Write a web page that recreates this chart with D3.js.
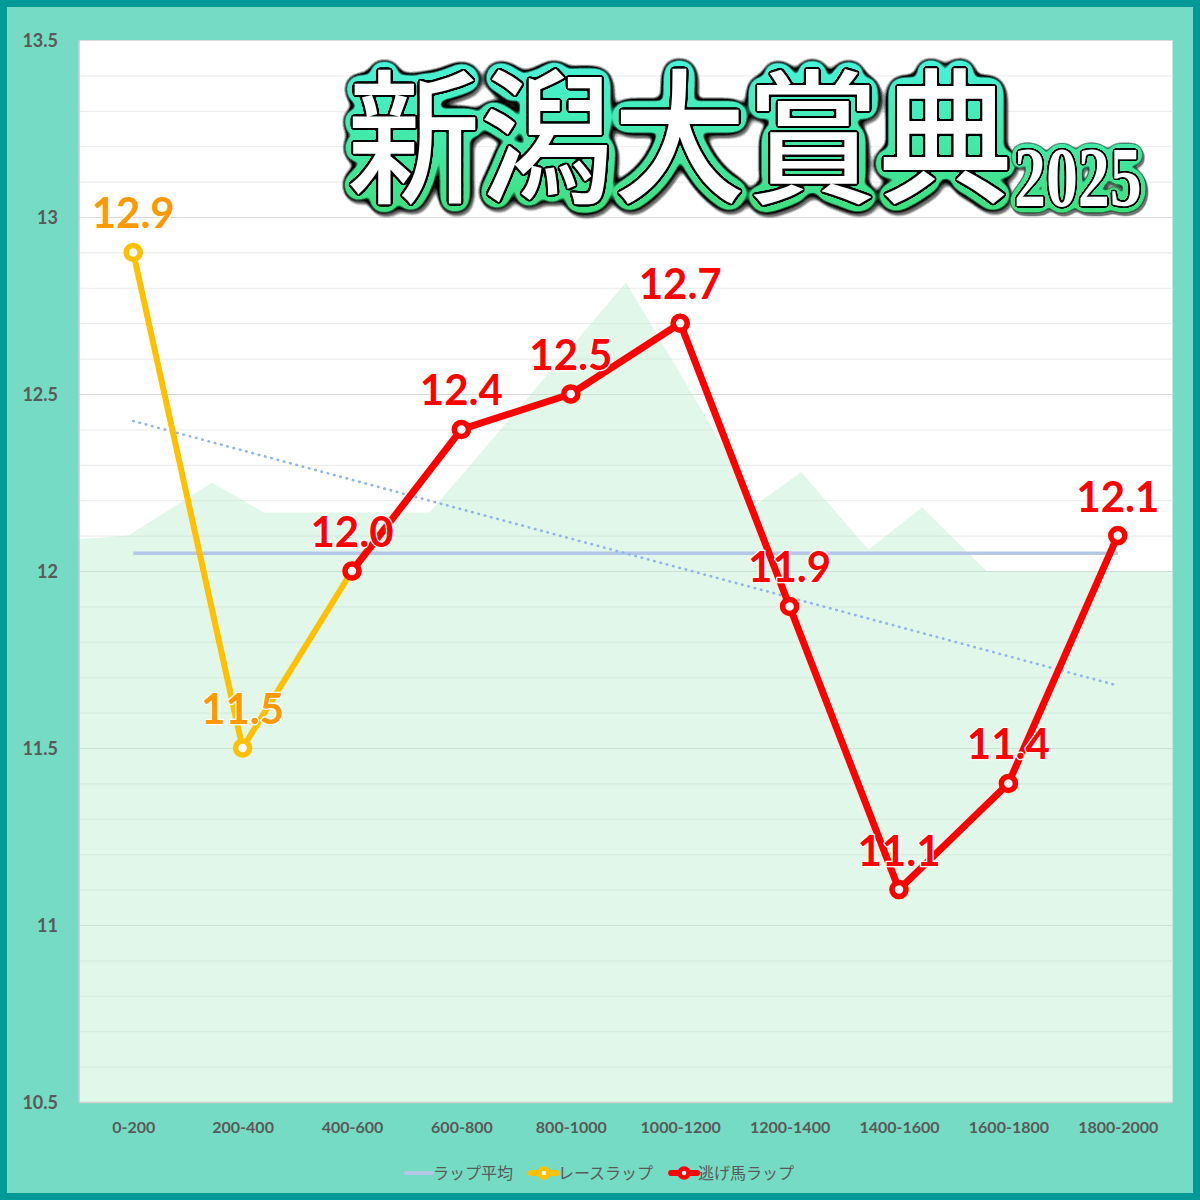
<!DOCTYPE html>
<html><head><meta charset="utf-8">
<script src="https://cdn.jsdelivr.net/npm/d3@7"></script>
<style>
html,body{margin:0;padding:0;background:#fff;}
svg{display:block;}
</style>
</head><body>
<svg id="chart" width="1200" height="1200"></svg>
<script>
// ---- data ----
const categories = ["0-200","200-400","400-600","600-800","800-1000","1000-1200","1200-1400","1400-1600","1600-1800","1800-2000"];
const raceLap   = [12.9, 11.5, 12.0, 12.4, 12.5, 12.7, 11.9, 11.1, 11.4, 12.1];
const leaderLap = [null, null, 12.0, 12.4, 12.5, 12.7, 11.9, 11.1, 11.4, 12.1];
const terrainDist = [0, 91, 244, 339, 642, 1001, 1241, 1321, 1444, 1542, 1660, 2000];
const terrainVal  = [12.09, 12.10, 12.25, 12.165, 12.165, 12.815, 12.19, 12.28, 12.06, 12.18, 12.0, 12.0];
const yTicks = [10.5, 11, 11.5, 12, 12.5, 13, 13.5];
const legendNames = ["ラップ平均", "レースラップ", "逃げ馬ラップ"];
const titleMain = "新潟大賞典";
const titleYear = "2025";

// ---- layout ----
const svg = d3.select("#chart");
const L = 78.5, R = 1172.5, T = 40, B = 1102;
const x = d3.scalePoint().domain(categories).range([L, R]).padding(0.5);
const xd = d3.scaleLinear().domain([0, 2000]).range([L, R]);
const y = d3.scaleLinear().domain([10.5, 13.5]).range([B, T]);

// background
svg.append("rect").attr("width",1200).attr("height",1200).attr("fill","#009a96");
svg.append("rect").attr("x",7).attr("y",7).attr("width",1186).attr("height",1186).attr("fill","#76dbc4");
svg.append("rect").attr("x",L).attr("y",T).attr("width",R-L).attr("height",B-T).attr("fill","#ffffff");

// gridlines
const minor = d3.range(105, 136).map(v => v/10).filter(v => Math.round(v*10) % 5 !== 0);
svg.append("g").selectAll("line").data(minor).join("line")
  .attr("x1",L).attr("x2",R).attr("y1",d=>y(d)+0.5).attr("y2",d=>y(d)+0.5)
  .attr("stroke","#eeeeee").attr("stroke-width",1.2);
svg.append("g").selectAll("line").data(yTicks.slice(1)).join("line")
  .attr("x1",L).attr("x2",R).attr("y1",d=>Math.round(y(d))+0.5).attr("y2",d=>Math.round(y(d))+0.5)
  .attr("stroke","#d9d9d9").attr("stroke-width",1.2);

// terrain area
const terrain = terrainDist.map((d,i)=>({d, v: terrainVal[i]}));
svg.append("path").datum(terrain)
  .attr("d", d3.area().x(p=>xd(p.d)).y0(B).y1(p=>y(p.v)))
  .attr("fill","#b3ecca").attr("fill-opacity",0.4);

// axes lines
svg.append("line").attr("x1",L).attr("x2",R).attr("y1",B+0.5).attr("y2",B+0.5).attr("stroke","#d0d0d0").attr("stroke-width",1.5);
svg.append("line").attr("x1",L+0.5).attr("x2",L+0.5).attr("y1",T).attr("y2",B).attr("stroke","#9dc3e6").attr("stroke-width",1.2);

// y axis labels
const yAxis = d3.axisLeft(y).tickValues(yTicks).tickSize(0).tickPadding(0).tickFormat(d3.format("~g"));
const gy = svg.append("g").attr("transform",`translate(58,0)`).call(yAxis);
gy.select(".domain").remove();
gy.selectAll("text").attr("font-family","Lato, 'Open Sans', sans-serif").attr("font-weight","bold")
  .attr("font-size",18).attr("fill","#595959").attr("dy","0.35em");

// x axis labels
const xAxis = d3.axisBottom(x).tickSize(0).tickPadding(0);
const gx = svg.append("g").attr("transform",`translate(0,1127)`).call(xAxis);
gx.select(".domain").remove();
gx.selectAll("text").attr("font-family","Lato, 'Open Sans', sans-serif").attr("font-weight","bold")
  .attr("font-size",16).attr("fill","#595959").attr("dy","0.35em");

// average line
const avg = d3.mean(raceLap);
svg.append("line").attr("x1",x(categories[0])).attr("x2",x(categories[categories.length-1]))
  .attr("y1",y(avg)).attr("y2",y(avg)).attr("stroke","#b4c7e7").attr("stroke-width",3.5);

// trendline (linear regression of race lap)
const idx = raceLap.map((v,i)=>i+1);
const mx = d3.mean(idx), my = avg;
const slope = d3.sum(idx.map((xi,i)=>(xi-mx)*(raceLap[i]-my))) / d3.sum(idx.map(xi=>(xi-mx)*(xi-mx)));
const trendAt = xi => my + slope*(xi-mx);
svg.append("line").attr("x1",x(categories[0])).attr("x2",x(categories[categories.length-1]))
  .attr("y1",y(trendAt(1))).attr("y2",y(trendAt(categories.length)))
  .attr("stroke","#8fb6e6").attr("stroke-width",2.6).attr("stroke-linecap","round")
  .attr("stroke-dasharray","0.5 6");

// series
const lineGen = d3.line().defined(d=>d.v!=null).x(d=>x(d.c)).y(d=>y(d.v));
const raceData = raceLap.map((v,i)=>({c:categories[i], v}));
const leadData = leaderLap.map((v,i)=>({c:categories[i], v}));

function drawSeries(data, color, w){
  svg.append("path").datum(data).attr("d",lineGen).attr("fill","none")
    .attr("stroke",color).attr("stroke-width",w).attr("stroke-linejoin","round").attr("stroke-linecap","round");
  svg.append("g").selectAll("circle").data(data.filter(d=>d.v!=null)).join("circle")
    .attr("cx",d=>x(d.c)).attr("cy",d=>y(d.v)).attr("r",7)
    .attr("fill","#ffffff").attr("stroke",color).attr("stroke-width",5.5);
}
drawSeries(raceData, "#ffc000", 6);
drawSeries(leadData, "#ff0000", 7);

// data labels
const labels = categories.map((c,i)=>{
  const lead = leaderLap[i] != null;
  return {c, v: lead ? leaderLap[i] : raceLap[i], color: lead ? "#ff0000" : "#ff9900"};
});
svg.append("g").selectAll("text").data(labels).join("text")
  .attr("x",d=>x(d.c)).attr("y",d=>y(d.v)-24)
  .attr("text-anchor","middle")
  .attr("font-family","Lato, 'Open Sans', sans-serif").attr("font-weight","bold").attr("font-size",42)
  .attr("fill",d=>d.color).attr("stroke","#ffffff").attr("stroke-width",2.5).attr("paint-order","stroke")
  .attr("stroke-linejoin","round")
  .text(d=>d3.format(".1f")(d.v));

// title (outline layers built with an SVG filter so each text appears once)
const defs = svg.append("defs");
const gradSvg = "<svg xmlns='http://www.w3.org/2000/svg' width='100' height='100' preserveAspectRatio='none'>" +
  "<defs><linearGradient id='g' x1='0' y1='0' x2='0' y2='1'>" +
  "<stop offset='0' stop-color='#48f3dc'/><stop offset='1' stop-color='#3ddf78'/></linearGradient></defs>" +
  "<rect width='100' height='100' fill='url(#g)'/></svg>";
const gradHref = "data:image/svg+xml;charset=utf-8," + encodeURIComponent(gradSvg);

function makeFilter(id, sOuter, sGreen, sInner){
  const f = defs.append("filter").attr("id",id).attr("filterUnits","userSpaceOnUse")
    .attr("primitiveUnits","userSpaceOnUse")
    .attr("x",300).attr("y",30).attr("width",890).attr("height",220)
    .attr("color-interpolation-filters","sRGB");
  const thresh = (inp, s, res) => {
    f.append("feGaussianBlur").attr("in",inp).attr("stdDeviation",s).attr("result",res+"b");
    const ct = f.append("feComponentTransfer").attr("in",res+"b").attr("result",res);
    ct.append("feFuncA").attr("type","linear").attr("slope",25).attr("intercept",-0.9);
  };
  thresh("SourceAlpha", sOuter, "aO");
  thresh("SourceAlpha", sGreen, "aG");
  thresh("SourceAlpha", sInner, "aI");
  f.append("feFlood").attr("flood-color","#000").attr("result","blk");
  f.append("feComposite").attr("in","blk").attr("in2","aO").attr("operator","in").attr("result","outer");
  f.append("feOffset").attr("in","outer").attr("dx",2).attr("dy",3).attr("result","shadow0");
  f.append("feComponentTransfer").attr("in","shadow0").attr("result","shadow")
    .append("feFuncA").attr("type","linear").attr("slope",0.55);
  f.append("feImage").attr("href",gradHref).attr("x",300).attr("y",55).attr("width",890).attr("height",165)
    .attr("preserveAspectRatio","none").attr("result","gimg");
  f.append("feComposite").attr("in","gimg").attr("in2","aG").attr("operator","in").attr("result","green");
  f.append("feComposite").attr("in","blk").attr("in2","aI").attr("operator","in").attr("result","inner");
  const m = f.append("feMerge");
  ["shadow","outer","green","inner","SourceGraphic"].forEach(n=>m.append("feMergeNode").attr("in",n));
}
makeFilter("tfMain", 7.2, 6.0, 1.6);
makeFilter("tfYear", 5.0, 4.0, 1.3);

const tMain = svg.append("g").attr("filter","url(#tfMain)");
tMain.append("text").attr("transform","translate(347,192) scale(1,1.09)")
  .attr("font-family","'Noto Sans CJK JP', sans-serif").attr("font-weight",500).attr("font-size",133)
  .attr("fill","#ffffff").text(titleMain);
const tYear = svg.append("g").attr("filter","url(#tfYear)");
tYear.append("text").attr("transform","translate(1014,206) scale(0.76,1)")
  .attr("font-family","'Liberation Serif', serif").attr("font-weight","bold").attr("font-size",84)
  .attr("fill","#ffffff").text(titleYear);

// legend
const legend = svg.append("g");
const items = [
  {name: legendNames[0], color:"#b4c7e7", marker:false},
  {name: legendNames[1], color:"#ffc000", marker:true},
  {name: legendNames[2], color:"#ff0000", marker:true}
];
let cursor = 0;
items.forEach(it=>{
  const g = legend.append("g").attr("transform",`translate(${cursor},0)`);
  g.append("line").attr("x1",0).attr("x2",26).attr("y1",0).attr("y2",0)
    .attr("stroke",it.color).attr("stroke-width",it.marker?6:4).attr("stroke-linecap","round");
  if(it.marker){
    g.append("circle").attr("cx",13).attr("cy",0).attr("r",4.5).attr("fill","#fff")
      .attr("stroke",it.color).attr("stroke-width",4.5);
  }
  const t = g.append("text").attr("x",27).attr("y",0).attr("dy","0.36em")
    .attr("font-family","'Noto Sans CJK JP', sans-serif").attr("font-size",16).attr("fill","#595959")
    .text(it.name);
  cursor += 27 + t.node().getComputedTextLength() + 18;
});
const total = cursor - 18;
legend.attr("transform",`translate(${600 - total/2},1173)`);
</script>
</body></html>
